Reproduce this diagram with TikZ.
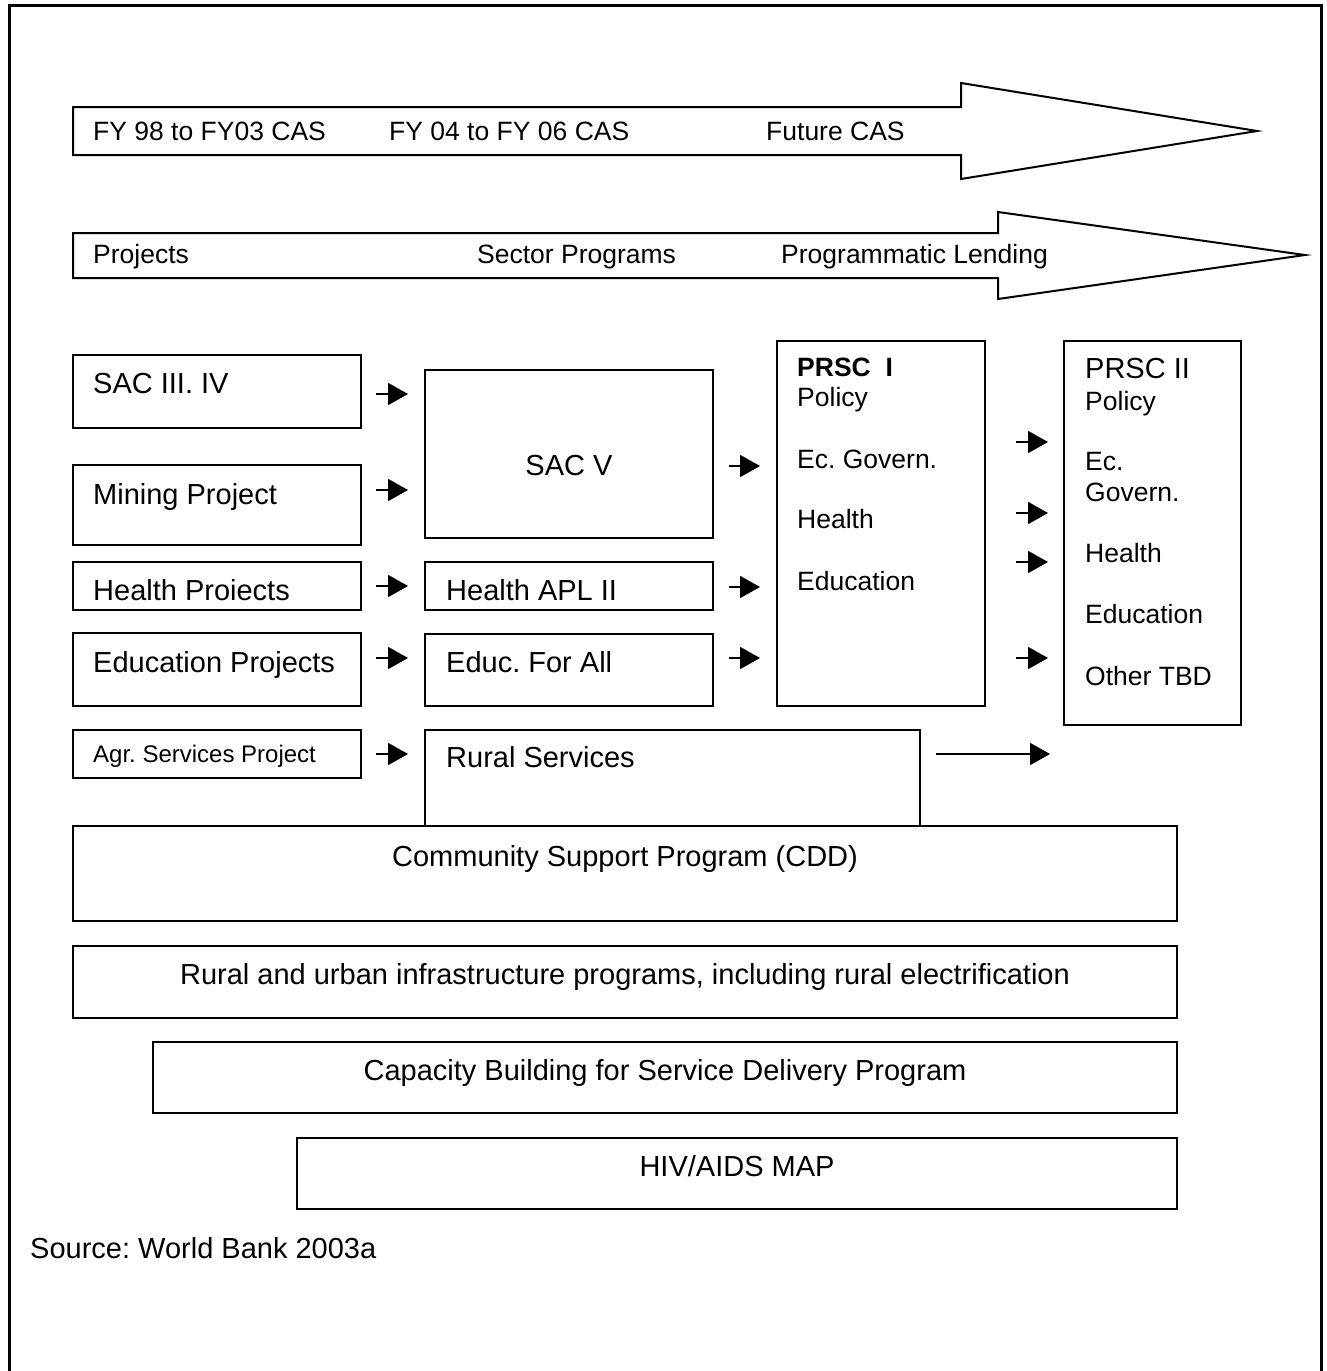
\documentclass[tikz,border=0pt]{standalone}
\usepackage{fontspec}
\setmainfont{Liberation Sans}
\usetikzlibrary{arrows.meta,fit}
\frenchspacing

\tikzset{
  box/.style={draw, line width=2pt, inner sep=0pt, outer sep=0pt},
  bigtxt/.style={font=\fontsize{29}{34}\selectfont, inner sep=0pt},
  midtxt/.style={font=\fontsize{26.5}{31}\selectfont, inner sep=0pt},
  smalltxt/.style={font=\fontsize{24}{28}\selectfont, inner sep=0pt},
  pusharrow/.style={line width=2pt, -{Triangle[length=20pt,width=22pt]}}
}

\begin{document}
\begin{tikzpicture}[x=1pt,y=-1pt]
		%%%%% START %%%%%
		\useasboundingbox (0,0) rectangle (1327,1371);
		
		% outer frame, open at the bottom
		\draw[line width=3pt] (9,1380) -- (9,5) -- (1321,5) -- (1321,1380);
		
		% the two big time arrows
		\draw[line width=2pt, line join=miter] (73,107) -- (961,107) -- (961,83) -- (1257,131) -- (961,179) -- (961,155) -- (73,155) -- cycle;
		\node[midtxt, anchor=base west] (cas1) at (93,140) {FY 98 to FY03 CAS};
		\node[midtxt, anchor=base west] (cas2) at (389,140) {FY 04 to FY 06 CAS};
		\node[midtxt, anchor=base west] (cas3) at (766,140) {Future CAS};
		
		\draw[line width=2pt, line join=miter] (73,233) -- (998,233) -- (998,212) -- (1305,255) -- (998,299) -- (998,278) -- (73,278) -- cycle;
		\node[midtxt, anchor=base west] (lend1) at (93,263) {Projects};
		\node[midtxt, anchor=base west] (lend2) at (477,263) {Sector Programs};
		\node[midtxt, anchor=base west] (lend3) at (781,263) {Programmatic Lending};
		
		% first column
		\node[box, fit={(73,355) (361,428)}] (sac34) {};
		\node[bigtxt, anchor=base west] at (93,393) {SAC III. IV};
		\node[box, fit={(73,465) (361,545)}] (mining) {};
		\node[bigtxt, anchor=base west] at (93,504) {Mining Project};
		\node[box, fit={(73,562) (361,610)}] (healthp) {};
		\node[bigtxt, anchor=base west] at (93,600) {Health Proiects};
		\node[box, fit={(73,633) (361,706)}] (educp) {};
		\node[bigtxt, anchor=base west] at (93,672) {Education Projects};
		\node[box, fit={(73,730) (361,778)}] (agr) {};
		\node[smalltxt, anchor=base west] at (93,762) {Agr. Services Project};
		
		% second column
		\node[box, fit={(425,370) (713,538)}] (sac5) {};
		\node[bigtxt, anchor=base] at (569,475) {SAC V};
		\node[box, fit={(425,562) (713,610)}] (apl) {};
		\node[bigtxt, anchor=base west] at (446,600) {Health APL II};
		\node[box, fit={(425,634) (713,706)}] (efa) {};
		\node[bigtxt, anchor=base west] at (446,672) {Educ. For All};
		\node[box, fit={(425,730) (920,826)}] (rural) {};
		\node[bigtxt, anchor=base west] at (446,767) {Rural Services};
		
		% PRSC I
		\node[box, fit={(777,341) (985,706)}] (prsc1) {};
		\node[midtxt, anchor=base west] at (797,376) {\bfseries PRSC\ \ I};
		\node[midtxt, anchor=base west] at (797,406) {Policy};
		\node[midtxt, anchor=base west] at (797,468) {Ec. Govern.};
		\node[midtxt, anchor=base west] at (797,528) {Health};
		\node[midtxt, anchor=base west] at (797,590) {Education};
		
		% PRSC II
		\node[box, fit={(1064,341) (1241,725)}] (prsc2) {};
		\node[bigtxt, anchor=base west] at (1085,378) {PRSC II};
		\node[midtxt, anchor=base west] at (1085,410) {Policy};
		\node[midtxt, anchor=base west] at (1085,470) {Ec.};
		\node[midtxt, anchor=base west] at (1085,501) {Govern.};
		\node[midtxt, anchor=base west] at (1085,562) {Health};
		\node[midtxt, anchor=base west] at (1085,623) {Education};
		\node[midtxt, anchor=base west] at (1085,685) {Other TBD};
		
		% the small push arrows
		\foreach \y [count=\i] in {394,490,586,658,754} {
			\coordinate (a\i) at (376,\y);
			\draw[pusharrow] (a\i) -- ++(32,0);
		}
		\foreach \y [count=\i] in {466,587,658} {
			\coordinate (b\i) at (729,\y);
			\draw[pusharrow] (b\i) -- ++(31,0);
		}
		\foreach \y [count=\i] in {442,513,562,658} {
			\coordinate (c\i) at (1016,\y);
			\draw[pusharrow] (c\i) -- ++(32,0);
		}
		\coordinate (ruralout) at (936,754);
		\draw[pusharrow] (ruralout) -- ++(114,0);
		
		% cross-cutting programs
		\node[box, fit={(73,826) (1177,921)}] (cdd) {};
		\node[bigtxt, anchor=base] at (625,866) {Community Support Program (CDD)};
		\node[box, fit={(73,946) (1177,1018)}] (infra) {};
		\node[bigtxt, anchor=base] at (625,984) {Rural and urban infrastructure programs, including rural electrification};
		\node[box, fit={(153,1042) (1177,1113)}] (capacity) {};
		\node[bigtxt, anchor=base] at (665,1080) {Capacity Building for Service Delivery Program};
		\node[box, fit={(297,1138) (1177,1209)}] (hiv) {};
		\node[bigtxt, anchor=base] at (737,1176) {HIV/AIDS MAP};
		
		\node[bigtxt, anchor=base west] (source) at (30,1258) {Source: World Bank 2003a};
		
		%%%%% END %%%%%
	\end{tikzpicture}
\end{document}
